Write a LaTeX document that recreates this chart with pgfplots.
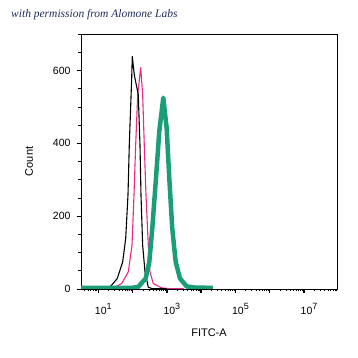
\documentclass[border=0pt]{standalone}
\usepackage{pgfplots}
\usepackage{pgfplotstable}
\pgfplotsset{compat=1.18}
\usepackage{fontspec}
\setmainfont{Liberation Sans}
\newfontfamily\titlefont{Liberation Serif}
\usetikzlibrary{calc}
\definecolor{dteal}{HTML}{1B9E77}
\definecolor{dpink}{HTML}{E7298A}
\definecolor{navy}{HTML}{1F2D5C}
\newcommand{\ex}[1]{10\raisebox{0.8ex}{\fontsize{9}{10}\selectfont #1}}

\pgfplotstableread{
L c
0.496 0.5
1.195 1
1.341 5
1.554 29
1.711 74
1.799 139
1.866 258
1.904 395
1.974 579
1.991 638
2.050 588
2.166 533
2.216 395
2.245 258
2.294 120
2.362 47
2.458 5
2.566 1
3.000 0.5
}\blackdata

\pgfplotstableread{
L c
0.496 0.5
1.429 2
1.682 15
1.875 47
1.983 120
2.041 258
2.090 395
2.149 533
2.236 608
2.294 533
2.341 395
2.391 258
2.458 120
2.507 47
2.603 15
2.848 3
3.090 1
3.500 0.5
}\pinkdata

\pgfplotstableread{
L c
0.496 3
1.974 3
2.166 6
2.382 29
2.487 74
2.574 166
2.682 304
2.778 432
2.895 525
2.994 441
3.070 304
3.157 166
3.257 74
3.382 29
3.577 7
3.820 4
4.344 3
}\tealdata

\begin{document}
\begin{tikzpicture}
\begin{axis}[name=ax, scale only axis, width=256pt, height=255pt,
  xmin=0.496, xmax=7.96, ymin=0, ymax=700,
  axis line style={line width=0.9pt},
  tick pos=left, tick align=outside,
  xtick={1,2,3,4,5,6,7},
  xticklabels={\ex{1},,\ex{3},,\ex{5},,\ex{7}},
  minor xtick={0.602,0.699,0.778,0.845,0.903,0.954,
    1.301,1.477,1.602,1.699,1.778,1.845,1.903,1.954,
    2.301,2.477,2.602,2.699,2.778,2.845,2.903,2.954,
    3.301,3.477,3.602,3.699,3.778,3.845,3.903,3.954,
    4.301,4.477,4.602,4.699,4.778,4.845,4.903,4.954,
    5.301,5.477,5.602,5.699,5.778,5.845,5.903,5.954,
    6.301,6.477,6.602,6.699,6.778,6.845,6.903,6.954,
    7.301,7.477,7.602,7.699,7.778,7.845,7.903,7.954},
  ytick={0,200,400,600},
  minor ytick={50,100,150,250,300,350,450,500,550,650,700},
  major tick length=4pt, minor tick length=2.5pt,
  every major tick/.style={line width=0.9pt, black},
  every minor tick/.style={line width=0.7pt, black},
  every major x tick/.append style={line width=1.4pt},
  /pgf/number format/assume math mode=true,
  yticklabel style={font=\fontsize{10.5}{12}\selectfont, xshift=-3pt},
  xticklabel style={font=\fontsize{10.5}{12}\selectfont, xshift=5pt, yshift=-7pt},
  xlabel={FITC-A}, ylabel={Count},
  label style={font=\fontsize{11}{13}\selectfont},
  xlabel style={at={(axis description cs:0.5,-0.171)}, anchor=center},
  ylabel style={at={(axis description cs:-0.203,0.5)}, anchor=center},
]
\addplot[dpink, line width=1.1pt, line join=round] table[x=L, y=c] {\pinkdata};
\addplot[black, line width=1.1pt, line join=round] table[x=L, y=c] {\blackdata};
\addplot[dteal, line width=4.5pt, line join=round] table[x=L, y=c] {\tealdata};
\end{axis}
\node[anchor=west, inner sep=0pt, text=navy, font=\titlefont\itshape\fontsize{11.5}{14}\selectfont] at ($(ax.north west)+(-70pt,19pt)$) {with permission from Alomone Labs};
\pgfresetboundingbox
\path[use as bounding box] ($(ax.south west)+(-81pt,-69pt)$) rectangle ($(ax.north east)+(21pt,34pt)$);
\end{tikzpicture}
\end{document}
